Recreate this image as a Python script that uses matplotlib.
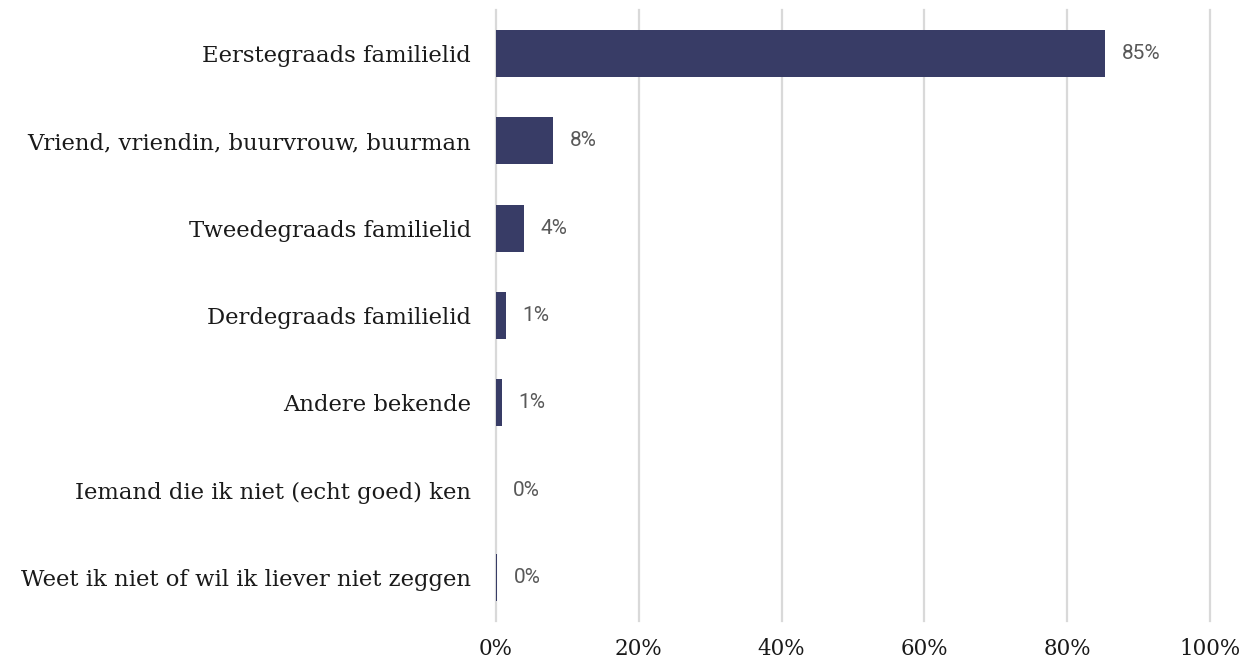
import matplotlib.pyplot as plt
from matplotlib.ticker import PercentFormatter

categories = [
    "Eerstegraads familielid",
    "Vriend, vriendin, buurvrouw, buurman",
    "Tweedegraads familielid",
    "Derdegraads familielid",
    "Andere bekende",
    "Iemand die ik niet (echt goed) ken",
    "Weet ik niet of wil ik liever niet zeggen",
]
values = [85.3, 8.0, 3.9, 1.4, 0.8, 0.0, 0.2]
value_labels = ["85%", "8%", "4%", "1%", "1%", "0%", "0%"]
xticks = [0, 20, 40, 60, 80, 100]

bar_color = "#383c66"
grid_color = "#d9d9d9"

fig = plt.figure(figsize=(12.56, 6.61), dpi=100)
ax = fig.add_axes([496 / 1256, 40 / 661, 714 / 1256, 611 / 661])

ypos = list(range(len(categories)))
ax.barh(ypos, values, height=0.54, color=bar_color, zorder=3)

for y, v, lab in zip(ypos, values, value_labels):
    ax.annotate(lab, (v, y), xytext=(12, 0), textcoords="offset points",
                va="center", ha="left", fontsize=15, color="#595959",
                family="Roboto")

ax.set_xlim(0, 100)
ax.set_ylim(len(categories) - 0.5, -0.5)
ax.set_yticks(ypos)
ax.set_yticklabels(categories, family="DejaVu Serif", fontsize=16.4, color="#1a1a1a")
ax.set_xticks(xticks)
ax.xaxis.set_major_formatter(PercentFormatter(decimals=0))
for t in ax.get_xticklabels():
    t.set_family("DejaVu Serif")
    t.set_fontsize(15.5)
    t.set_color("#1a1a1a")
ax.tick_params(axis="y", length=0, pad=18)
ax.tick_params(axis="x", length=0, pad=12)

ax.grid(axis="x", color=grid_color, linewidth=1.6, zorder=0)
for gl in ax.get_xgridlines():
    gl.set_clip_on(False)
for s in ax.spines.values():
    s.set_visible(False)

fig.savefig("out.png", dpi=100)
